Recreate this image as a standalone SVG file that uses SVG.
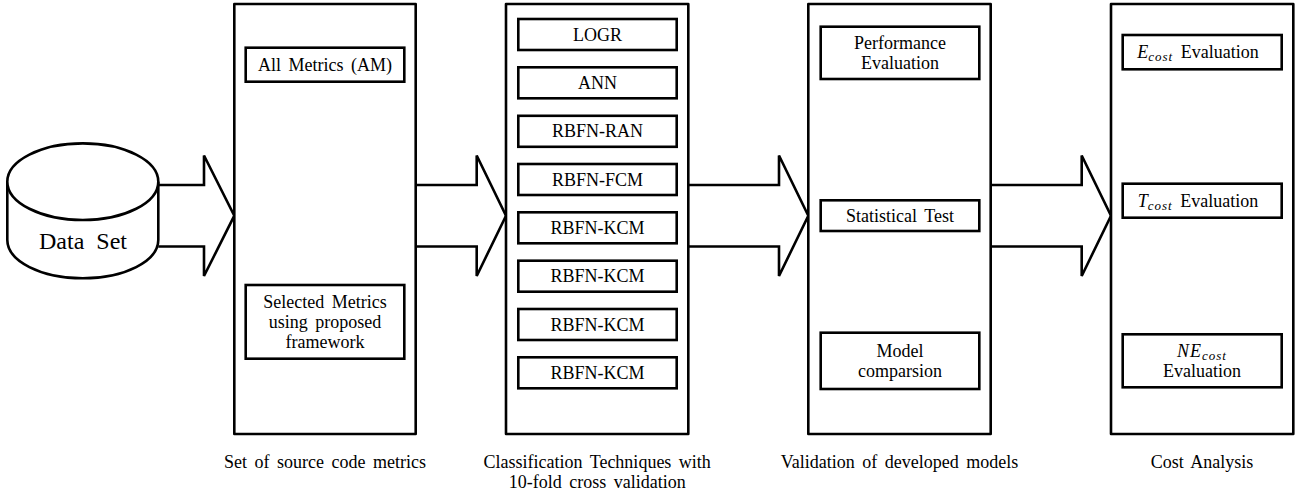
<svg xmlns="http://www.w3.org/2000/svg" width="1297" height="495" viewBox="0 0 1297 495" font-family="'Liberation Serif', 'DejaVu Serif', serif">
<style>
  .frame{fill:#fff;stroke:#000;stroke-width:2.6;stroke-linejoin:round}
  .box{fill:#fff;stroke:#000;stroke-width:2.6}
  .arrow{fill:none;stroke:#000;stroke-width:2.6;stroke-linejoin:miter}
  text{font-family:'Liberation Serif','DejaVu Serif',serif;fill:#000;font-size:18px;text-anchor:middle;word-spacing:3px}
  .cap{font-size:18px;word-spacing:3px}
  .big{font-size:24px;word-spacing:6px}
  .mi{font-style:italic}
  .sub{font-style:italic;font-size:13px;letter-spacing:1px}
</style>
<rect width="1297" height="495" fill="#fff"/>

<g id="connectors">
  <polyline class="arrow" points="158.3,185 204,185 204,155.5 234.3,215.7 204,276 204,246.5 158.3,246.5"/>
  <polyline class="arrow" points="415.7,185 476.7,185 476.7,155.5 506,215.7 476.7,276 476.7,246.5 415.7,246.5"/>
  <polyline class="arrow" points="688.3,185 779,185 779,155.5 808.3,215.7 779,276 779,246.5 688.3,246.5"/>
  <polyline class="arrow" points="990.7,185 1081.7,185 1081.7,155.5 1111,215.7 1081.7,276 1081.7,246.5 990.7,246.5"/>
</g>

<g id="dataset">
  <path class="frame" d="M7.3,181.7 L7.3,240 A75.5,38.3 0 0 0 158.3,240 L158.3,181.7"/>
  <ellipse class="frame" cx="82.8" cy="181.7" rx="75.5" ry="38.3"/>
  <text class="big" x="83" y="249">Data Set</text>
</g>

<g id="col-metrics">
  <rect class="frame" x="234.3" y="4" width="181.4" height="430"/>
  <text class="cap" x="325" y="468">Set of source code metrics</text>
</g>
<g id="box-am">
  <rect class="box" x="245.7" y="47.7" width="158.6" height="34"/>
  <text x="325" y="70.7">All Metrics (AM)</text>
</g>
<g id="box-selected">
  <rect class="box" x="245.7" y="285" width="158.6" height="73.7"/>
  <text x="325" y="307.8">Selected Metrics</text>
  <text x="325" y="327.8">using proposed</text>
  <text x="325" y="347.8">framework</text>
</g>

<g id="col-classification">
  <rect class="frame" x="506" y="4" width="182.3" height="430"/>
  <text class="cap" x="597.2" y="468">Classification Techniques with</text>
  <text class="cap" x="597.2" y="488">10-fold cross validation</text>
</g>
<g id="box-logr"><rect class="box" x="518.3" y="19" width="158.4" height="31"/><text x="597.5" y="40.5">LOGR</text></g>
<g id="box-ann"><rect class="box" x="518.3" y="67.3" width="158.4" height="31"/><text x="597.5" y="88.8">ANN</text></g>
<g id="box-ran"><rect class="box" x="518.3" y="115.8" width="158.4" height="31"/><text x="597.5" y="137.3">RBFN-RAN</text></g>
<g id="box-fcm"><rect class="box" x="518.3" y="164" width="158.4" height="31"/><text x="597.5" y="185.5">RBFN-FCM</text></g>
<g id="box-kcm1"><rect class="box" x="518.3" y="212.3" width="158.4" height="31"/><text x="597.5" y="233.8">RBFN-KCM</text></g>
<g id="box-kcm2"><rect class="box" x="518.3" y="260.7" width="158.4" height="31"/><text x="597.5" y="282.2">RBFN-KCM</text></g>
<g id="box-kcm3"><rect class="box" x="518.3" y="309" width="158.4" height="31"/><text x="597.5" y="330.5">RBFN-KCM</text></g>
<g id="box-kcm4"><rect class="box" x="518.3" y="357.3" width="158.4" height="31"/><text x="597.5" y="378.8">RBFN-KCM</text></g>

<g id="col-validation">
  <rect class="frame" x="808.3" y="4" width="182.4" height="430"/>
  <text class="cap" x="899.5" y="468">Validation of developed models</text>
</g>
<g id="box-perf">
  <rect class="box" x="820.7" y="26.7" width="158.6" height="52.3"/>
  <text x="900" y="48.8">Performance</text>
  <text x="900" y="68.8">Evaluation</text>
</g>
<g id="box-stat">
  <rect class="box" x="820.7" y="200.3" width="158.6" height="30.7"/>
  <text x="900" y="221.7">Statistical Test</text>
</g>
<g id="box-model">
  <rect class="box" x="820.7" y="332.7" width="158.6" height="56.3"/>
  <text x="900" y="356.8">Model</text>
  <text x="900" y="376.8">comparsion</text>
</g>

<g id="col-cost">
  <rect class="frame" x="1111" y="4" width="182.3" height="430"/>
  <text class="cap" x="1202" y="468">Cost Analysis</text>
</g>
<g id="box-ecost">
  <rect class="box" x="1122.7" y="35" width="159" height="34.3"/>
  <text x="1198" y="58"><tspan class="mi">E</tspan><tspan class="sub" dy="3">cost</tspan><tspan dy="-3"> Evaluation</tspan></text>
</g>
<g id="box-tcost">
  <rect class="box" x="1122.7" y="183.7" width="159" height="34"/>
  <text x="1198" y="206.7"><tspan class="mi">T</tspan><tspan class="sub" dy="3">cost</tspan><tspan dy="-3"> Evaluation</tspan></text>
</g>
<g id="box-necost">
  <rect class="box" x="1122.7" y="334.3" width="159" height="53"/>
  <text x="1202" y="356.8"><tspan class="mi" letter-spacing="1">NE</tspan><tspan class="sub" dy="3">cost</tspan></text>
  <text x="1202" y="376.8">Evaluation</text>
</g>
</svg>
